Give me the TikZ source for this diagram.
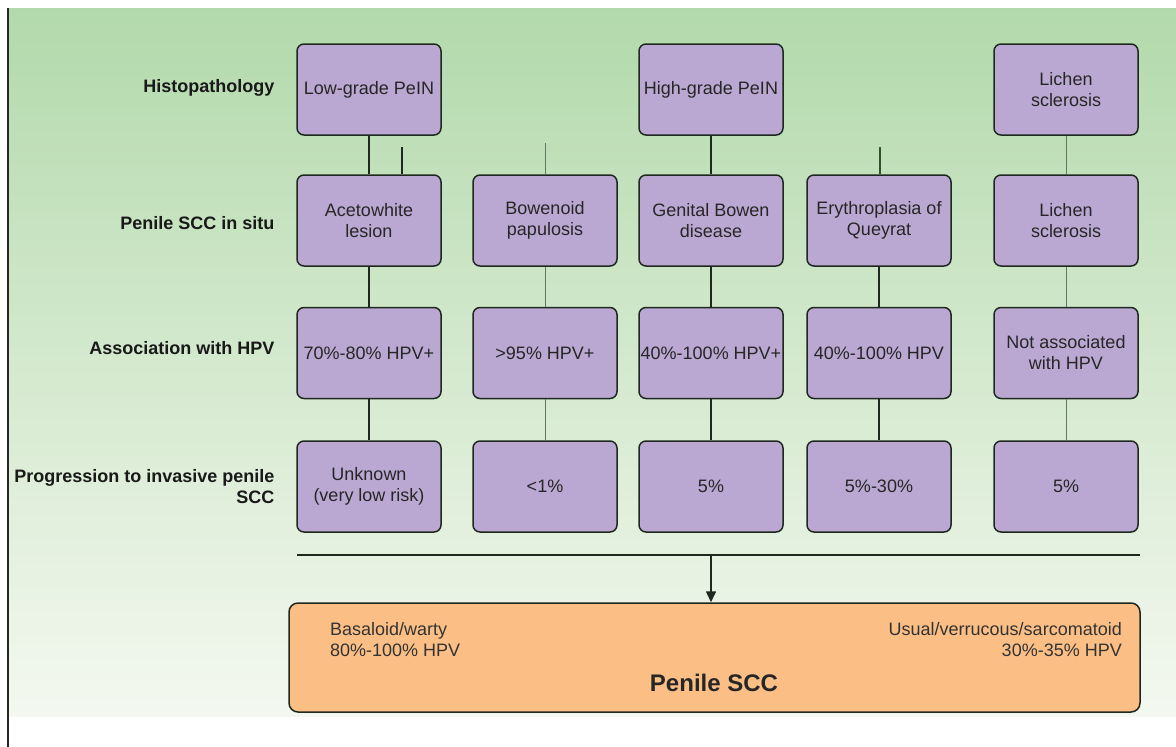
\documentclass[tikz,border=0pt]{standalone}
\usepackage{fontspec}
\setmainfont{Liberation Sans}
\usetikzlibrary{arrows.meta}
\definecolor{bgtop}{RGB}{178,217,171}
\definecolor{bgmid}{RGB}{212,233,206}
\definecolor{bgbot}{RGB}{244,248,240}
\definecolor{boxpurple}{RGB}{186,168,211}
\definecolor{boxorange}{RGB}{251,191,134}
\definecolor{linedark}{RGB}{30,40,30}
\definecolor{linelight}{RGB}{95,120,95}
\definecolor{stubgreen}{RGB}{45,80,45}
\begin{document}
\begin{tikzpicture}[x=1pt,y=-1pt,
  pbox/.style={draw=linedark, line width=1.5pt, rounded corners=7pt, fill=boxpurple,
    minimum width=144pt, minimum height=91pt, inner sep=0.5pt, align=center,
    text=black!85, font=\fontsize{18}{21}\selectfont},
  rowlabel/.style={anchor=east, align=right, text=black!90,
    font=\fontsize{18}{21}\selectfont\bfseries},
  obox/.style={draw=linedark, line width=1.5pt, rounded corners=9pt, fill=boxorange,
    minimum width=851pt, minimum height=109pt, inner sep=0pt},
  otext/.style={text=black!80, font=\fontsize{18}{21}\selectfont, inner sep=0pt},
  darkline/.style={draw=linedark, line width=1.6pt},
  lightline/.style={draw=linelight, line width=0.9pt},
  stubline/.style={draw=stubgreen, line width=2.6pt}
]
\useasboundingbox (0,0) rectangle (1176,747);
% background
\fill[white] (0,0) rectangle (1176,747);
\shade[top color=bgtop, bottom color=bgbot, middle color=bgmid] (8,8) rectangle (1176,716);
\draw[line width=2pt, black!85] (8,8) -- (8,747);

% row labels
\node[rowlabel] (lab1) at (278,88) {Histopathology};
\node[rowlabel] (lab2) at (278,223) {Penile SCC in situ};
\node[rowlabel] (lab3) at (278,348) {Association with HPV};
\node[rowlabel] (lab4) at (278,487) {Progression to invasive penile\\SCC};

% row 1
\node[pbox] (r1c1) at (369,89.5) {Low-grade PeIN};
\node[pbox] (r1c3) at (711,89.5) {High-grade PeIN};
\node[pbox] (r1c5) at (1066,89.5) {Lichen\\sclerosis};

% row 2
\node[pbox] (r2c1) at (369,220.5) {Acetowhite\\lesion};
\node[pbox] (r2c2) at (545,220.5) {Bowenoid\\papulosis};
\node[pbox] (r2c3) at (711,220.5) {Genital Bowen\\disease};
\node[pbox] (r2c4) at (879,220.5) {Erythroplasia of\\Queyrat};
\node[pbox] (r2c5) at (1066,220.5) {Lichen\\sclerosis};

% row 3
\node[pbox] (r3c1) at (369,353) {70\%-80\% HPV+};
\node[pbox] (r3c2) at (545,353) {>95\% HPV+};
\node[pbox] (r3c3) at (711,353) {40\%-100\% HPV+};
\node[pbox] (r3c4) at (879,353) {40\%-100\% HPV};
\node[pbox] (r3c5) at (1066,353) {Not associated\\with HPV};

% row 4
\node[pbox] (r4c1) at (369,486.5) {Unknown\\(very low risk)};
\node[pbox] (r4c2) at (545,486.5) {<1\%};
\node[pbox] (r4c3) at (711,486.5) {5\%};
\node[pbox] (r4c4) at (879,486.5) {5\%-30\%};
\node[pbox] (r4c5) at (1066,486.5) {5\%};

% vertical connectors
\draw[darkline] (r1c1.south) -- (r2c1.north);
\draw[darkline] (r2c1.south) -- (r3c1.north);
\draw[darkline] (r3c1.south) -- (r4c1.north);
\draw[darkline] (r1c3.south) -- (r2c3.north);
\draw[darkline] (r2c3.south) -- (r3c3.north);
\draw[darkline] (r3c3.south) -- (r4c3.north);
\draw[darkline] (r2c4.south) -- (r3c4.north);
\draw[darkline] (r3c4.south) -- (r4c4.north);
\draw[lightline] (r1c5.south) -- (r2c5.north);
\draw[lightline] (r2c5.south) -- (r3c5.north);
\draw[lightline] (r3c5.south) -- (r4c5.north);
\draw[lightline] (r2c2.south) -- (r3c2.north);
\draw[lightline] (r3c2.south) -- (r4c2.north);

% short stubs
\coordinate (s1) at (402,147);
\coordinate (s2) at (545,143);
\coordinate (s4) at (880,147);
\draw[darkline] (s1) -- (s1 |- r2c1.north);
\draw[lightline] (s2) -- (r2c2.north);
\draw[stubline] (s4) -- (s4 |- r2c4.north);

% horizontal bar and arrow
\coordinate (hl) at (297,555);
\coordinate (hr) at (1140,555);
\coordinate (hm) at (711,555);
\draw[darkline] (hl) -- (hr);

% bottom box
\node[obox] (scc) at (714.5,657.5) {};
\draw[darkline, -{Triangle[length=11pt,width=10pt]}] (hm) -- (hm |- scc.north);
\node[otext, anchor=west, align=left] (bas) at (330,640) {Basaloid/warty\\80\%-100\% HPV};
\node[otext, anchor=east, align=right] (usu) at (1122,640) {Usual/verrucous/sarcomatoid\\30\%-35\% HPV};
\node[text=black!85, font=\fontsize{24}{28}\selectfont\bfseries] (ttl) at (714,683) {Penile SCC};
\end{tikzpicture}
\end{document}
